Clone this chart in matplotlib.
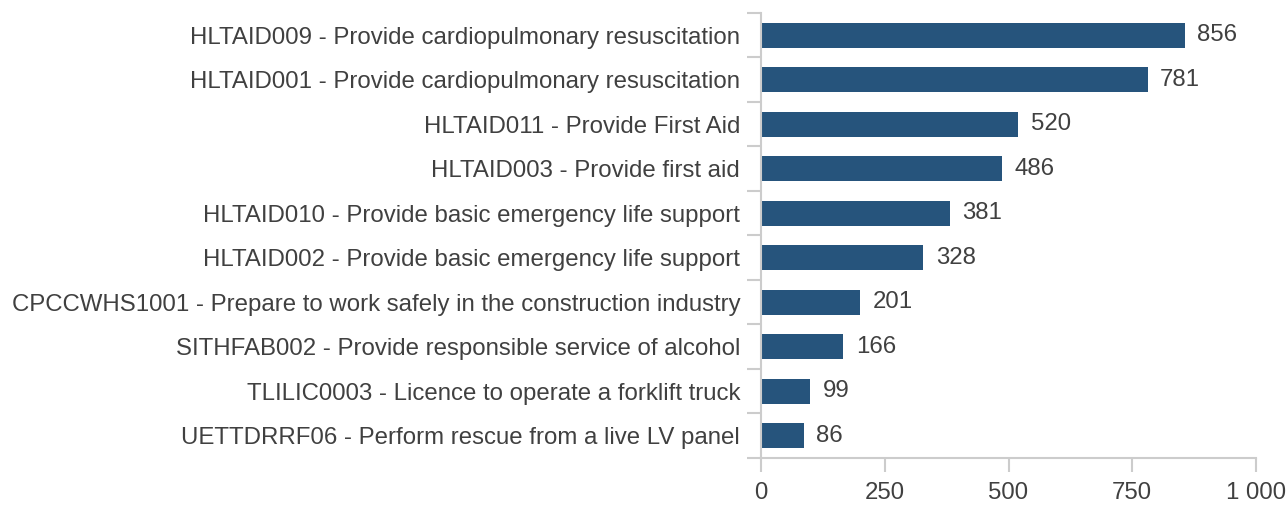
import matplotlib as mpl
import matplotlib.pyplot as plt
import numpy as np

mpl.rcParams['font.family'] = ['Liberation Sans', 'DejaVu Sans']

courses = [
    'HLTAID009 - Provide cardiopulmonary resuscitation',
    'HLTAID001 - Provide cardiopulmonary resuscitation',
    'HLTAID011 - Provide First Aid',
    'HLTAID003 - Provide first aid',
    'HLTAID010 - Provide basic emergency life support',
    'HLTAID002 - Provide basic emergency life support',
    'CPCCWHS1001 - Prepare to work safely in the construction industry',
    'SITHFAB002 - Provide responsible service of alcohol',
    'TLILIC0003 - Licence to operate a forklift truck',
    'UETTDRRF06 - Perform rescue from a live LV panel',
]
counts = [856, 781, 520, 486, 381, 328, 201, 166, 99, 86]
xticks = [0, 250, 500, 750, 1000]
xticklabels = ['0', '250', '500', '750', '1 000']

bar_col = '#26547c'
grid_col = '#cccccc'
txt_col = '#404040'
fs = 17.3

fig = plt.figure(figsize=(12.87, 5.05), dpi=100)
ax = fig.add_axes([761/1287, 1-458/505, (1256-761)/1287, (458-13)/505])

y = np.arange(len(courses))
ax.barh(y, counts, height=0.56, color=bar_col)
ax.set_xlim(0, 1000)
ax.set_ylim(len(courses)-0.5, -0.5)

for yi, v in zip(y, counts):
    ax.annotate(str(v), (v, yi), xytext=(9, 0), textcoords='offset points',
                va='center', ha='left', fontsize=fs, color=txt_col)

# category labels, ticks on band boundaries
ax.set_yticks(np.arange(len(courses)+1) - 0.5)
ax.set_yticklabels([])
ax.set_yticks(y, minor=True)
ax.set_yticklabels(courses, minor=True, fontsize=fs, color=txt_col)
ax.tick_params(axis='y', which='major', length=10, width=1.5, color=grid_col)
ax.tick_params(axis='y', which='minor', length=0, pad=15)

ax.set_xticks(xticks)
ax.set_xticklabels(xticklabels, fontsize=fs, color=txt_col)
ax.tick_params(axis='x', length=10, width=1.5, color=grid_col, pad=7)

for s in ['top', 'right']:
    ax.spines[s].set_visible(False)
for s in ['left', 'bottom']:
    ax.spines[s].set_color(grid_col)
    ax.spines[s].set_linewidth(1.5)

fig.savefig('out.png', dpi=100)
